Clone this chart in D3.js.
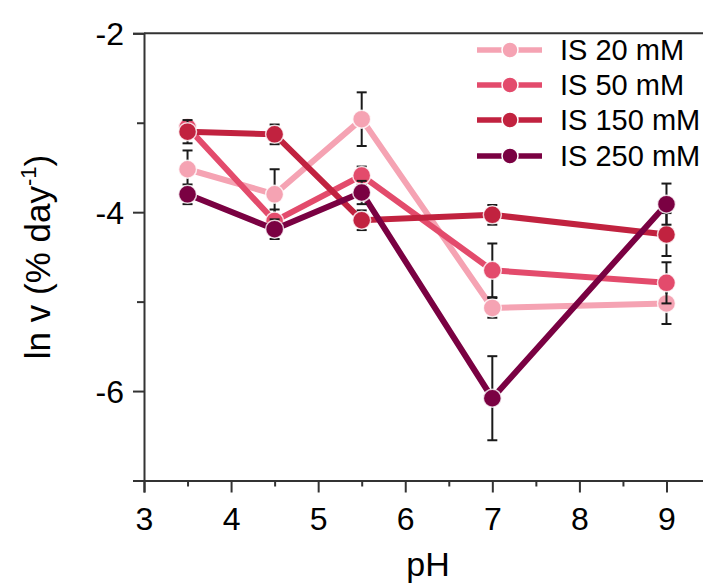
<!DOCTYPE html>
<html><head><meta charset="utf-8">
<script src="https://cdn.jsdelivr.net/npm/d3@7"></script>
<style>body{margin:0;background:#fff}svg{display:block}</style>
</head><body><svg id="c" width="703" height="583"></svg>
<script>
const phValues = [3.5, 4.5, 5.5, 7, 9];
const seriesNames = ["IS 20 mM", "IS 50 mM", "IS 150 mM", "IS 250 mM"];
const is20 = [-3.52, -3.80, -2.96, -5.07, -5.02];
const is20Err = [0.21, 0.28, 0.30, 0.11, 0.23];
const is50 = [-3.05, -4.10, -3.59, -4.65, -4.79];
const is50Err = [0.07, 0.13, 0.10, 0.30, 0.23];
const is150 = [-3.10, -3.13, -4.09, -4.03, -4.25];
const is150Err = [0.13, 0.11, 0.11, 0.11, 0.24];
const is250 = [-3.80, -4.19, -3.78, -6.08, -3.91];
const is250Err = [0.11, 0.11, 0.13, 0.47, 0.23];
const seriesColors = ["#f5a3b3", "#e34b6c", "#c1223f", "#7a0142"];
const xTicks = [3, 4, 5, 6, 7, 8, 9];
const xMinor = [3.5, 4.5, 5.5, 6.5, 7.5, 8.5, 9.5];
const yTicks = [-2, -4, -6];
const yMinor = [-3, -5, -7];

const series = [
  {name: seriesNames[0], v: is20, e: is20Err, c: seriesColors[0]},
  {name: seriesNames[1], v: is50, e: is50Err, c: seriesColors[1]},
  {name: seriesNames[2], v: is150, e: is150Err, c: seriesColors[2]},
  {name: seriesNames[3], v: is250, e: is250Err, c: seriesColors[3]}
];

const svg = d3.select("#c");
const font = "'Liberation Sans', Arial, sans-serif";
const x = d3.scaleLinear().domain([3, 10]).range([144, 144 + 7 * 87.08]);
const y = d3.scaleLinear().domain([-7, -2]).range([480.5, 33.3]);
const axisColor = "#333";
const fmt = d => String(d);

// frame top
svg.append("line").attr("x1", x(3)).attr("x2", x(10)).attr("y1", y(-2)).attr("y2", y(-2))
  .attr("stroke", axisColor).attr("stroke-width", 2);

// x axis
const gx = svg.append("g").attr("transform", `translate(0,${y(-7)})`)
  .call(d3.axisBottom(x).tickValues(xTicks).tickSize(12).tickPadding(15).tickFormat(fmt));
gx.append("g").call(d3.axisBottom(x).tickValues(xMinor).tickSize(6).tickFormat(""))
  .select(".domain").remove();
// y axis
const gy = svg.append("g").attr("transform", `translate(${x(3)},0)`)
  .call(d3.axisLeft(y).tickValues(yTicks).tickSize(11).tickPadding(9).tickFormat(fmt));
gy.append("g").call(d3.axisLeft(y).tickValues(yMinor).tickSize(7).tickFormat(""))
  .select(".domain").remove();
svg.selectAll(".domain").attr("stroke", axisColor).attr("stroke-width", 2);
svg.selectAll(".tick line").attr("stroke", axisColor).attr("stroke-width", 2);
svg.selectAll(".tick text").attr("font-family", font).attr("font-size", 32).attr("fill", "#000");
gy.selectAll(".tick text").attr("dy", "0.36em");

// labels
svg.append("text").attr("x", 428).attr("y", 576).attr("text-anchor", "middle")
  .attr("font-family", font).attr("font-size", 34).text("pH");
const yl = svg.append("text").attr("transform", "translate(50,257) rotate(-90)")
  .attr("text-anchor", "middle").attr("font-family", font).attr("font-size", 35);
yl.append("tspan").text("ln v (% day");
yl.append("tspan").attr("font-size", 22).attr("dy", -14).text("-1");
yl.append("tspan").attr("dy", 14).text(")");

// series
const line = d3.line().x((d, i) => x(phValues[i])).y(d => y(d));
series.forEach(s => {
  const g = svg.append("g");
  g.append("path").datum(s.v).attr("d", line).attr("fill", "none")
    .attr("stroke", s.c).attr("stroke-width", 6);
  s.v.forEach((v, i) => {
    const px = x(phValues[i]);
    const eb = g.append("g").attr("stroke", "#1a1a1a").attr("stroke-width", 2);
    eb.append("line").attr("x1", px).attr("x2", px).attr("y1", y(v + s.e[i])).attr("y2", y(v - s.e[i]));
    eb.append("line").attr("x1", px - 5).attr("x2", px + 5).attr("y1", y(v + s.e[i])).attr("y2", y(v + s.e[i]));
    eb.append("line").attr("x1", px - 5).attr("x2", px + 5).attr("y1", y(v - s.e[i])).attr("y2", y(v - s.e[i]));
  });
  g.selectAll("circle").data(s.v).join("circle")
    .attr("cx", (d, i) => x(phValues[i])).attr("cy", d => y(d)).attr("r", 9)
    .attr("fill", s.c).attr("stroke", "#fff").attr("stroke-width", 1.5).attr("stroke-opacity", 0.8);
});

// legend
const legY = [50, 85, 120, 156];
series.forEach((s, i) => {
  const g = svg.append("g").attr("transform", `translate(0,${legY[i]})`);
  g.append("line").attr("x1", 477).attr("x2", 542).attr("stroke", s.c).attr("stroke-width", 5.5);
  g.append("circle").attr("cx", 510).attr("r", 8).attr("fill", s.c)
    .attr("stroke", "#fff").attr("stroke-width", 1.5);
  g.append("text").attr("x", 560).attr("dy", "0.36em").attr("font-family", font)
    .attr("font-size", 29).text(s.name);
});
</script></body></html>
